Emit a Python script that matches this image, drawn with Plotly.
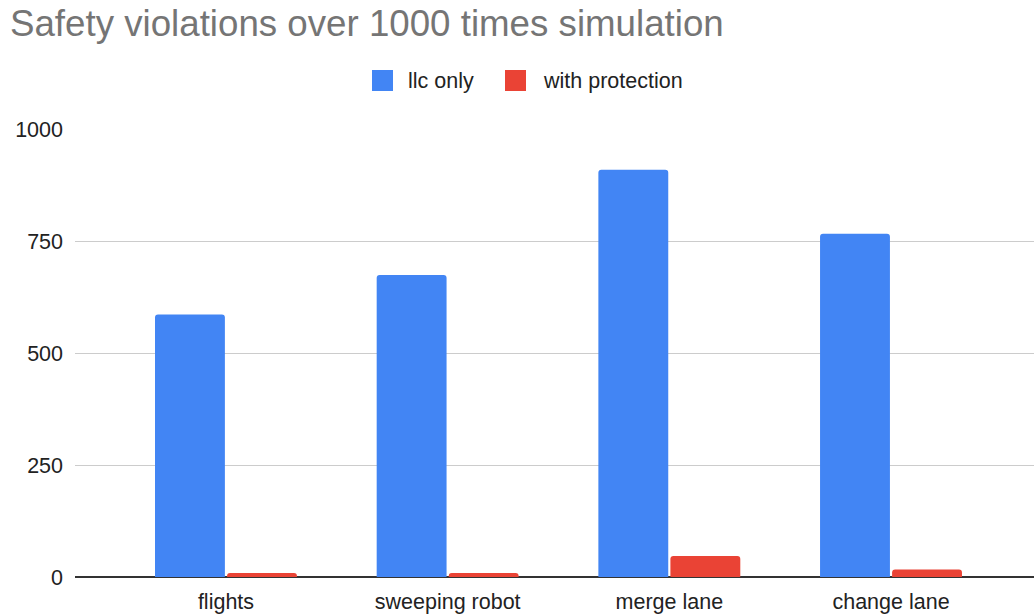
import plotly.graph_objects as go

# Scenarios and violation counts (out of 1000 simulation runs)
categories = ["flights", "sweeping robot", "merge lane", "change lane"]
llc_only = [586, 674, 909, 766]
with_protection = [9, 9, 47, 17]
y_ticks = [0, 250, 500, 750, 1000]

BLUE = "#4285F4"
RED = "#EA4335"
FONT = "Liberation Sans, Arial, sans-serif"

W, H = 1034, 615
L, R, T, B = 75, 0, 129, 38
pw, ph = W - L - R, H - T - B


def px_x(x):
    return (x - L) / pw


def px_y(y):
    return (H - B - y) / ph


fig = go.Figure()
fig.add_trace(go.Bar(name="llc only", x=categories, y=llc_only,
                     marker=dict(color=BLUE, cornerradius=3, line_width=0),
                     showlegend=False))
fig.add_trace(go.Bar(name="with protection", x=categories, y=with_protection,
                     marker=dict(color=RED, cornerradius=3, line_width=0),
                     showlegend=False))

# Hand-drawn legend centered above the plot
legend_items = [("llc only", BLUE, 372, 406), ("with protection", RED, 505, 541)]
for label, color, sx, tx in legend_items:
    fig.add_shape(type="rect", xref="paper", yref="paper",
                  x0=px_x(sx), x1=px_x(sx + 21), y0=px_y(91), y1=px_y(70),
                  fillcolor=color, line_width=0)
    fig.add_annotation(text=label, xref="paper", yref="paper",
                       x=px_x(tx), y=px_y(81), xanchor="left", yanchor="middle",
                       showarrow=False, font=dict(family=FONT, size=21.5, color="#222222"))

fig.update_layout(
    width=W, height=H,
    margin=dict(l=L, r=R, t=T, b=B, autoexpand=False),
    paper_bgcolor="white", plot_bgcolor="white",
    barmode="group", bargap=0.35, bargroupgap=0.03,
    font=dict(family=FONT, size=21.5, color="#222222"),
    title=dict(text="Safety violations over 1000 times simulation",
               xref="container", yref="container", x=10 / W, xanchor="left",
               y=1 - 23 / H, yanchor="middle",
               font=dict(family=FONT, size=36.7, color="#757575")),
)
fig.update_xaxes(range=[-0.681, 3.645], showgrid=False, showline=False,
                 zeroline=False, ticks="", automargin=False,
                 ticklabelstandoff=9)
fig.update_yaxes(range=[0, 1000], tickvals=y_ticks, showgrid=True,
                 gridcolor="#cccccc", gridwidth=1, zeroline=True,
                 zerolinecolor="#333333", zerolinewidth=2, ticks="",
                 automargin=False, ticklabelstandoff=11)

fig.write_html("out.html")
